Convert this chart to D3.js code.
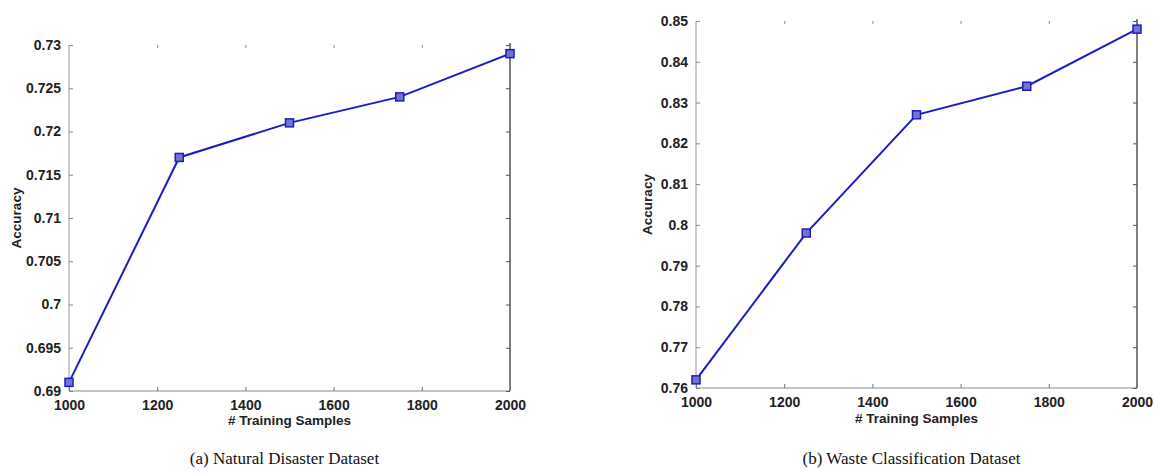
<!DOCTYPE html>
<html>
<head>
<meta charset="utf-8">
<script src="https://cdn.jsdelivr.net/npm/d3@7"></script>
<style>
  body { margin: 0; background: #fff; }
  svg { display: block; }
</style>
</head>
<body>
<div id="chart"></div>
<script>
// Data
const samples = [1000, 1250, 1500, 1750, 2000];
const disasterAcc = [0.691, 0.717, 0.721, 0.724, 0.729];
const wasteAcc = [0.762, 0.798, 0.827, 0.834, 0.848];
const xTicks = [1000, 1200, 1400, 1600, 1800, 2000];
const disasterTicks = [0.69, 0.695, 0.7, 0.705, 0.71, 0.715, 0.72, 0.725, 0.73];
const wasteTicks = [0.76, 0.77, 0.78, 0.79, 0.8, 0.81, 0.82, 0.83, 0.84, 0.85];
const captions = ['(a) Natural Disaster Dataset', '(b) Waste Classification Dataset'];

const width = 1154, height = 474;
const svg = d3.select('#chart').append('svg')
    .attr('width', width)
    .attr('height', height);

const panels = [
    { values: disasterAcc, ticks: disasterTicks, domain: [0.69, 0.73], caption: captions[0],
      left: 69, right: 510, top: 45, bottom: 391, xLabelY: 421, yLabelX: 17 },
    { values: wasteAcc, ticks: wasteTicks, domain: [0.76, 0.85], caption: captions[1],
      left: 696, right: 1137, top: 21, bottom: 388, xLabelY: 419, yLabelX: 648 }
];

const sans = '"Liberation Sans", Arial, sans-serif';

panels.forEach(p => {
    const x = d3.scaleLinear().domain([1000, 2000]).range([p.left, p.right]);
    const y = d3.scaleLinear().domain(p.domain).range([p.bottom, p.top]);
    const g = svg.append('g');

    // Box: left/bottom light, right dark, top not drawn
    g.append('line').attr('x1', p.left).attr('x2', p.left).attr('y1', p.top).attr('y2', p.bottom)
        .attr('stroke', '#9a9a9a').attr('stroke-width', 1);
    g.append('line').attr('x1', p.left).attr('x2', p.right).attr('y1', p.bottom).attr('y2', p.bottom)
        .attr('stroke', '#8a8a8a').attr('stroke-width', 1);
    g.append('line').attr('x1', p.right).attr('x2', p.right).attr('y1', p.top - 2).attr('y2', p.bottom)
        .attr('stroke', '#555').attr('stroke-width', 1.5);

    // Bottom axis (inward ticks)
    const bottomAxis = g.append('g')
        .attr('transform', `translate(0,${p.bottom})`)
        .call(d3.axisBottom(x).tickValues(xTicks).tickSizeInner(-4).tickSizeOuter(0).tickPadding(9)
            .tickFormat(d3.format('d')));
    bottomAxis.select('.domain').remove();
    bottomAxis.selectAll('line').attr('stroke', '#777');

    // Top ticks
    const topAxis = g.append('g')
        .attr('transform', `translate(0,${p.top})`)
        .call(d3.axisTop(x).tickValues(xTicks.slice(1, -1)).tickSizeInner(-3).tickSizeOuter(0).tickFormat(''));
    topAxis.select('.domain').remove();
    topAxis.selectAll('line').attr('stroke', '#888');

    // Left axis
    const leftAxis = g.append('g')
        .attr('transform', `translate(${p.left},0)`)
        .call(d3.axisLeft(y).tickValues(p.ticks).tickSizeInner(-4).tickSizeOuter(0).tickPadding(8)
            .tickFormat(d => String(+d.toFixed(3))));
    leftAxis.select('.domain').remove();
    leftAxis.selectAll('line').attr('stroke', '#888');

    // Right ticks
    const rightAxis = g.append('g')
        .attr('transform', `translate(${p.right},0)`)
        .call(d3.axisRight(y).tickValues(p.ticks).tickSizeInner(-4).tickSizeOuter(0).tickFormat(''));
    rightAxis.select('.domain').remove();
    rightAxis.selectAll('line').attr('stroke', '#555');

    g.selectAll('.tick text')
        .attr('fill', '#222')
        .style('font-family', sans)
        .style('font-size', '14px')
        .style('font-weight', 'bold');

    // Axis titles
    g.append('text')
        .attr('x', (p.left + p.right) / 2)
        .attr('y', p.xLabelY)
        .attr('text-anchor', 'middle')
        .attr('dominant-baseline', 'middle')
        .attr('fill', '#222')
        .style('font-family', sans)
        .style('font-size', '13.5px')
        .style('font-weight', 'bold')
        .text('# Training Samples');

    g.append('text')
        .attr('transform', `translate(${p.yLabelX},${(p.top + p.bottom) / 2}) rotate(-90)`)
        .attr('text-anchor', 'middle')
        .attr('dominant-baseline', 'middle')
        .attr('fill', '#222')
        .style('font-family', sans)
        .style('font-size', '13.5px')
        .style('font-weight', 'bold')
        .text('Accuracy');

    // Line and markers
    const pts = samples.map((s, i) => [s, p.values[i]]);
    g.append('path')
        .datum(pts)
        .attr('fill', 'none')
        .attr('stroke', '#1c1cc4')
        .attr('stroke-width', 2)
        .attr('d', d3.line().x(d => x(d[0])).y(d => y(d[1])));

    g.selectAll('rect.mk')
        .data(pts)
        .enter().append('rect')
        .attr('class', 'mk')
        .attr('x', d => x(d[0]) - 4)
        .attr('y', d => y(d[1]) - 4)
        .attr('width', 8)
        .attr('height', 8)
        .attr('fill', '#7474cc')
        .attr('stroke', '#1c1cc4')
        .attr('stroke-width', 1.5);

    // Caption
    svg.append('text')
        .attr('x', (p.left + p.right) / 2 - 5)
        .attr('y', 460)
        .attr('text-anchor', 'middle')
        .attr('dominant-baseline', 'middle')
        .attr('fill', '#111')
        .style('font-family', '"Liberation Serif", "Times New Roman", serif')
        .style('font-size', '17px')
        .text(p.caption);
});
</script>
</body>
</html>
